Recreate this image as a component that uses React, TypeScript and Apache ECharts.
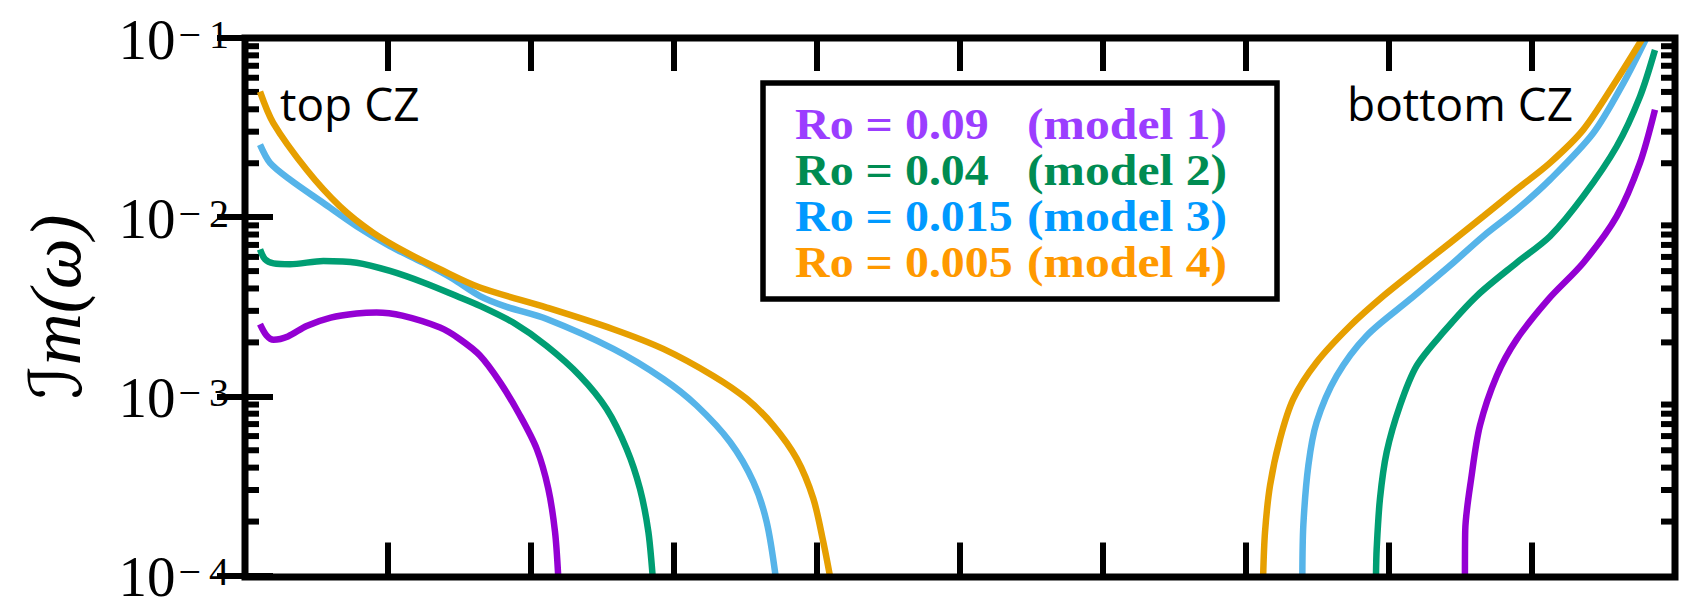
import React, { useEffect, useRef } from "react";
import * as echarts from "echarts";

// Plot area (pixels) shared by the grid and the frame drawn over it
const GRID = { left: 245, top: 38, width: 1430, height: 539 };

const X_MIN = 0;
const X_MAX = 10;
const Y_MIN = 1e-4;
const Y_MAX = 1e-1;

// Growth rates near the top of the convection zone
const model1Top: [number, number][] = [
  [0.105, 0.00253], [0.15, 0.00219], [0.2, 0.00207], [0.3, 0.00216], [0.431, 0.00247],
  [0.6, 0.00275], [0.78, 0.0029], [0.92, 0.00294], [1.1, 0.00282], [1.364, 0.00242],
  [1.5, 0.00209], [1.643, 0.00169], [1.783, 0.0012], [1.923, 0.000782], [2.04, 0.000509],
  [2.121, 0.000305], [2.168, 0.000175], [2.19, 0.0001],
];
const model2Top: [number, number][] = [
  [0.105, 0.00661], [0.14, 0.00582], [0.2, 0.00552], [0.315, 0.00546], [0.548, 0.00569],
  [0.781, 0.00557], [1.014, 0.00501], [1.247, 0.00432], [1.48, 0.00363], [1.643, 0.0032],
  [1.876, 0.00258], [2.11, 0.00191], [2.343, 0.0013], [2.529, 0.000851], [2.669, 0.000509],
  [2.762, 0.000305], [2.821, 0.000175], [2.85, 0.0001],
];
const model3Top: [number, number][] = [
  [0.105, 0.0254], [0.175, 0.0201], [0.315, 0.0162], [0.548, 0.012], [0.781, 0.00891],
  [1.014, 0.0069], [1.247, 0.00557], [1.45, 0.00455], [1.643, 0.00363], [1.83, 0.00316],
  [2.11, 0.0027], [2.576, 0.00184], [2.925, 0.00125], [3.158, 0.000889], [3.392, 0.000556],
  [3.555, 0.000333], [3.648, 0.000199], [3.71, 0.0001],
];
const model4Top: [number, number][] = [
  [0.105, 0.0502], [0.198, 0.0335], [0.431, 0.0184], [0.664, 0.0115], [0.897, 0.00818],
  [1.131, 0.00634], [1.364, 0.00512], [1.643, 0.00405], [2.11, 0.00313], [2.576, 0.00237],
  [2.925, 0.00184], [3.275, 0.0013], [3.508, 0.000968], [3.695, 0.000687], [3.858, 0.000449],
  [3.974, 0.000269], [4.044, 0.000154], [4.09, 0.0001],
];

// Growth rates near the bottom of the convection zone
const model1Bottom: [number, number][] = [
  [8.531, 0.0001], [8.533, 0.000178], [8.578, 0.000362], [8.636, 0.000687], [8.753, 0.0013],
  [8.893, 0.00208], [9.114, 0.00348], [9.359, 0.00557], [9.592, 0.0101], [9.755, 0.0201],
  [9.86, 0.0398],
];
const model2Bottom: [number, number][] = [
  [7.909, 0.0001], [7.914, 0.000142], [7.937, 0.000269], [7.984, 0.000489], [8.077, 0.000889],
  [8.193, 0.00148], [8.38, 0.00228], [8.613, 0.00363], [8.893, 0.00557], [9.126, 0.00783],
  [9.359, 0.0131], [9.592, 0.0248], [9.755, 0.0471], [9.86, 0.0857],
];
const model3Bottom: [number, number][] = [
  [7.394, 0.0001], [7.401, 0.000191], [7.436, 0.000411], [7.494, 0.000718], [7.634, 0.0013],
  [7.844, 0.00218], [8.147, 0.00348], [8.427, 0.00537], [8.659, 0.00783], [8.893, 0.011],
  [9.126, 0.0162], [9.429, 0.0295], [9.639, 0.056], [9.8, 0.1],
];
const model4Bottom: [number, number][] = [
  [7.12, 0.0001], [7.133, 0.000175], [7.168, 0.000318], [7.238, 0.000579], [7.331, 0.000968],
  [7.494, 0.00155], [7.727, 0.00247], [7.96, 0.00363], [8.193, 0.00512], [8.427, 0.00719],
  [8.659, 0.0101], [8.893, 0.0143], [9.126, 0.0201], [9.359, 0.0308], [9.592, 0.0583],
  [9.775, 0.1],
];

const topBranches = [model1Top, model2Top, model3Top, model4Top];
const bottomBranches = [model1Bottom, model2Bottom, model3Bottom, model4Bottom];

const roLabels = ["Ro = 0.09", "Ro = 0.04", "Ro = 0.015", "Ro = 0.005"];
const modelLabels = ["(model 1)", "(model 2)", "(model 3)", "(model 4)"];
const lineColors = ["#9400d3", "#009e73", "#56b4e9", "#e69f00"];
const textColors = ["#9b3dff", "#008c52", "#0099ff", "#ff9900"];

const zoneLabels = ["top CZ", "bottom CZ"];
const yTitle = "{c|ℐ}{i|m(ω)}";

// Minor log ticks at 2..9 times each decade
const minorTickValues: number[] = [];
for (let e = -4; e < -1; e++) {
  for (let k = 2; k <= 9; k++) minorTickValues.push(k * Math.pow(10, e));
}

const SERIF = "'Liberation Serif', 'DejaVu Serif', serif";
const SANS = "'Open Sans', 'Noto Sans', sans-serif";

function buildOption(): echarts.EChartsCoreOption {
  const tickStyle = { color: "#000", width: 6 };
  const xAxisBase = {
    type: "value",
    min: X_MIN,
    max: X_MAX,
    interval: 1,
    axisLine: { show: false },
    axisTick: { show: true, inside: true, length: 33, lineStyle: tickStyle },
    axisLabel: { show: false },
    splitLine: { show: false },
  };
  const yAxisBase = {
    type: "log",
    logBase: 10,
    min: Y_MIN,
    max: Y_MAX,
    axisLine: { show: false },
    axisTick: { show: true, inside: true, length: 28, lineStyle: tickStyle },
    splitLine: { show: false },
  };

  const lineSeries: any[] = [];
  topBranches.forEach((d, i) => {
    [d, bottomBranches[i]].forEach((branch) => {
      lineSeries.push({
        type: "line",
        name: modelLabels[i],
        data: branch,
        showSymbol: false,
        smooth: 0.3,
        lineStyle: { color: lineColors[i], width: 6.5 },
        itemStyle: { color: lineColors[i] },
        z: 3,
      });
    });
  });

  const minorTicks = {
    type: "custom",
    silent: true,
    clip: false,
    data: minorTickValues.map((v) => [X_MIN, v]),
    encode: { x: 0, y: 1 },
    renderItem: (_params: any, api: any) => {
      const v = api.value(1);
      const l = api.coord([X_MIN, v]);
      const r = api.coord([X_MAX, v]);
      const style = { stroke: "#000", lineWidth: 6 };
      return {
        type: "group",
        children: [
          { type: "line", shape: { x1: l[0], y1: l[1], x2: l[0] + 14, y2: l[1] }, style },
          { type: "line", shape: { x1: r[0], y1: r[1], x2: r[0] - 14, y2: r[1] }, style },
        ],
      };
    },
    z: 1,
  };

  // Legend rows: the Rossby number at one column, the model name at another
  const legendRowY = (i: number) => 124.5 + i * 45.8;
  const legendTexts: any[] = [];
  roLabels.forEach((t, i) => {
    [
      { x: 795, text: t, sx: 1.09 },
      { x: 1027, text: modelLabels[i], sx: 1.13 },
    ].forEach((cell) => {
      legendTexts.push({
        type: "text",
        x: cell.x,
        y: legendRowY(i),
        scaleX: cell.sx,
        z: 101,
        style: {
          text: cell.text,
          fill: textColors[i],
          font: `bold 44px ${SERIF}`,
          align: "left",
          verticalAlign: "middle",
        },
      });
    });
  });

  return {
    animation: false,
    backgroundColor: "#fff",
    grid: { ...GRID, containLabel: false },
    xAxis: [
      { ...xAxisBase, position: "bottom" },
      { ...xAxisBase, position: "top" },
    ],
    yAxis: [
      {
        ...yAxisBase,
        position: "left",
        name: yTitle,
        nameLocation: "middle",
        nameRotate: 90,
        nameGap: 153,
        nameTextStyle: {
          rich: {
            c: { fontSize: 72, fontFamily: "'DejaVu Serif', 'DejaVu Sans'", fontStyle: "italic", color: "#000" },
            i: { fontSize: 72, fontFamily: SERIF, fontStyle: "italic", color: "#000" },
          },
        },
        axisLabel: {
          show: true,
          margin: 16,
          showMinLabel: true,
          showMaxLabel: true,
          padding: [2, 0, 0, 0],
          formatter: (v: number) => {
            const e = Math.round(Math.log10(v));
            return `{b|10}{e|−\u2009${-e}}`;
          },
          rich: {
            b: { fontSize: 57, lineHeight: 50, fontFamily: SERIF, color: "#000" },
            e: {
              fontSize: 40,
              lineHeight: 30,
              fontFamily: SERIF,
              color: "#000",
              verticalAlign: "top",
              padding: [0, 0, 0, 3],
            },
          },
        },
      },
      { ...yAxisBase, position: "right", axisLabel: { show: false } },
    ],
    series: [minorTicks, ...lineSeries],
    graphic: [
      {
        type: "rect",
        z: 100,
        shape: { x: GRID.left, y: GRID.top, width: GRID.width, height: GRID.height },
        style: { fill: "none", stroke: "#000", lineWidth: 7 },
      },
      {
        type: "rect",
        z: 100,
        shape: { x: 763, y: 83, width: 514, height: 216 },
        style: { fill: "#fff", stroke: "#000", lineWidth: 5.5 },
      },
      ...legendTexts,
      {
        type: "text",
        z: 101,
        x: 280,
        y: 103,
        style: { text: zoneLabels[0], fill: "#000", font: `46px ${SANS}`, align: "left", verticalAlign: "middle" },
      },
      {
        type: "text",
        z: 101,
        x: 1347,
        y: 103,
        style: { text: zoneLabels[1], fill: "#000", font: `46px ${SANS}`, align: "left", verticalAlign: "middle" },
      },
    ],
  };
}

export default function App() {
  const ref = useRef<HTMLDivElement>(null);
  useEffect(() => {
    if (!ref.current) return;
    const chart = echarts.init(ref.current, null, { renderer: "svg" });
    chart.setOption(buildOption());
    return () => chart.dispose();
  }, []);
  return (
    <div
      ref={ref}
      style={{ position: "fixed", left: 0, top: 0, width: 1681, height: 605, background: "#fff" }}
    />
  );
}
